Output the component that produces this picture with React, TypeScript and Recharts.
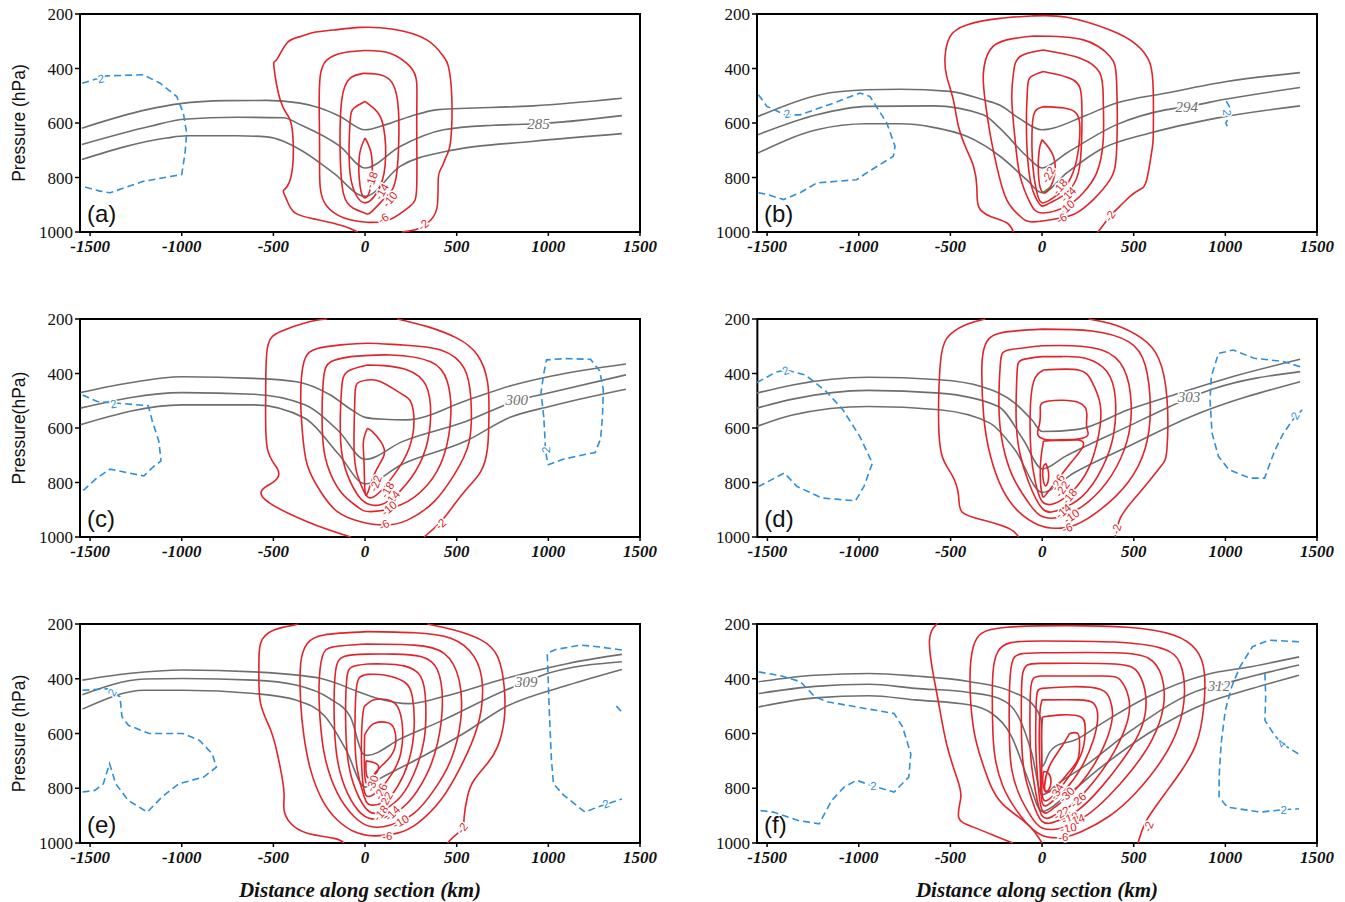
import React from "react";
import { ComposedChart, Line, Scatter, XAxis, YAxis, ReferenceArea } from "recharts";

type Pt = [number, number];
type Tag = [number, number, string, number];

// distance along section (km) / pressure (hPa)
const X_MIN = -1555;
const X_MAX = 1500;
const xTicks = [-1500, -1000, -500, 0, 500, 1000, 1500];
const pTicks = [200, 400, 600, 800, 1000];

// ---------- (a) ----------
const aTheta: Pt[][] = [
  [[-1545, 619], [-1190, 551], [-1009, 529], [-760, 518], [-536, 517], [-354, 527], [-246, 545], [-136, 576], [0, 625], [118, 605], [250, 575], [400, 551], [919, 537], [1401, 509]],
  [[-1545, 679], [-1172, 612], [-990, 586], [-700, 579], [-445, 581], [-354, 606], [-136, 686], [0, 765], [191, 686], [428, 625], [700, 608], [946, 603], [1401, 573]],
  [[-1545, 734], [-1082, 655], [-973, 647], [-700, 647], [-536, 651], [-354, 698], [-173, 783], [0, 869], [191, 759], [446, 704], [919, 667], [1401, 639]],
];
const aRed: Pt[][] = [
  [[200, 1000], [290, 988], [360, 955], [395, 900], [400, 800], [420, 760], [445, 720], [468, 660], [473, 500], [455, 393], [428, 356], [337, 295], [155, 256], [-27, 249], [-173, 259], [-282, 268], [-354, 283], [-427, 307], [-482, 368], [-497, 393], [-463, 515], [-418, 576], [-395, 637], [-395, 759], [-424, 832], [-446, 850], [-428, 881], [-382, 930], [-264, 954], [-118, 978], [-40, 1000]],
  [[0, 334], [-118, 342], [-209, 369], [-245, 430], [-250, 550], [-248, 700], [-245, 833], [-209, 905], [-118, 948], [9, 964], [136, 954], [246, 905], [282, 832], [282, 600], [282, 454], [246, 393], [136, 344]],
  [[-9, 418], [-82, 436], [-127, 515], [-136, 698], [-118, 858], [-64, 913], [0, 931], [36, 925], [118, 869], [173, 783], [182, 551], [136, 442], [60, 420]],
  [[0, 521], [-60, 545], [-82, 600], [-85, 759], [-55, 856], [0, 893], [64, 856], [109, 759], [100, 612], [55, 551]],
  [[0, 655], [-31, 722], [-27, 832], [0, 875], [31, 832], [36, 722]],
];
const aBlue: Pt[][] = [
  [[-1543, 454], [-1409, 427], [-1209, 423], [-1118, 454], [-1027, 503], [-991, 564], [-973, 637], [-982, 710], [-1000, 789], [-1209, 814], [-1391, 856], [-1445, 850], [-1545, 832]],
];
const aRedTags: Tag[] = [[36, 809, "-18", -70], [91, 852, "-14", -60], [136, 880, "-10", -50], [100, 950, "-6", -30], [318, 974, "-2", -40]];
const aBlueTags: Tag[] = [[-1440, 438, "2", -10]];
const aThetaTags: Tag[] = [[946, 603, "285", 0]];

// ---------- (b) ----------
const bTheta: Pt[][] = [
  [[-1549, 576], [-1212, 496], [-957, 478], [-775, 476], [-502, 484], [-320, 515], [-229, 535], [-120, 585], [0, 625], [40, 622], [225, 576], [407, 527], [680, 490], [1007, 448], [1407, 415]],
  [[-1549, 643], [-1229, 570], [-957, 539], [-593, 537], [-320, 570], [-229, 620], [-84, 722], [0, 765], [135, 710], [407, 606], [680, 551], [789, 540], [1007, 512], [1407, 470]],
  [[-1549, 710], [-1229, 625], [-957, 603], [-775, 603], [-600, 615], [-411, 649], [-229, 722], [-84, 808], [0, 856], [135, 783], [316, 698], [589, 637], [952, 582], [1407, 537]],
];
const bRed: Pt[][] = [
  [[-156, 1000], [-193, 966], [-284, 942], [-347, 905], [-356, 832], [-374, 759], [-411, 698], [-456, 612], [-484, 515], [-520, 429], [-529, 356], [-502, 283], [-411, 240], [-229, 216], [-47, 207], [135, 212], [371, 259], [516, 313], [589, 381], [607, 490], [607, 640], [600, 698], [571, 808], [534, 844], [480, 869], [425, 905], [371, 942], [316, 991], [300, 1000]],
  [[-47, 281], [-193, 295], [-284, 332], [-320, 417], [-311, 515], [-284, 637], [-247, 759], [-193, 881], [-120, 942], [-47, 963], [107, 948], [189, 930], [280, 881], [371, 808], [407, 698], [407, 454], [371, 356], [225, 295]],
  [[7, 332], [-120, 356], [-156, 417], [-165, 515], [-147, 661], [-120, 795], [-65, 893], [0, 930], [135, 905], [225, 856], [298, 783], [334, 661], [334, 515], [316, 417], [207, 362]],
  [[7, 411], [-60, 430], [-80, 480], [-85, 637], [-65, 808], [-29, 881], [0, 905], [44, 893], [135, 856], [198, 783], [216, 661], [216, 515], [171, 442]],
  [[10, 540], [-40, 560], [-55, 640], [-50, 760], [-30, 850], [0, 893], [60, 875], [120, 840], [170, 780], [200, 690], [205, 600], [180, 560], [120, 545]],
  [[0, 661], [62, 722], [62, 808], [7, 856], [-20, 783], [-15, 698]],
];
const bBlue: Pt[][] = [
  [[-1547, 496], [-1501, 539], [-1401, 570], [-1320, 570], [-1138, 527], [-993, 490], [-938, 503], [-847, 600], [-802, 686], [-811, 722], [-957, 783], [-1011, 808], [-1229, 820], [-1320, 856], [-1410, 881], [-1501, 862], [-1547, 856]],
  [[1005, 520], [1022, 540], [1000, 558], [1018, 580], [1003, 600], [1010, 612]],
];
const bGreen: Pt[][] = [[[5, 855], [40, 838]]];
const bRedTags: Tag[] = [[35, 790, "-22", -60], [98, 834, "-18", -50], [144, 862, "-14", -45], [135, 910, "-10", -40], [107, 950, "-6", -30], [371, 942, "-2", -55]];
const bBlueTags: Tag[] = [[-1390, 566, "2", -10], [1008, 562, "2", 90]];
const bThetaTags: Tag[] = [[789, 542, "294", 0]];

// ---------- (c) ----------
const cTheta: Pt[][] = [
  [[-1552, 470], [-1298, 436], [-998, 412], [-605, 418], [-374, 430], [-189, 479], [-74, 533], [0, 561], [100, 568], [226, 570], [550, 500], [795, 445], [1012, 410], [1423, 365]],
  [[-1552, 527], [-998, 470], [-605, 476], [-328, 515], [-143, 612], [0, 715], [203, 650], [550, 576], [827, 500], [1012, 470], [1423, 405]],
  [[-1552, 588], [-998, 515], [-605, 515], [-328, 564], [-143, 697], [0, 805], [203, 733], [550, 648], [795, 560], [1012, 520], [1423, 458]],
];
const cRed: Pt[][] = [
  [[-78, 1000], [-315, 944], [-560, 852], [-497, 797], [-479, 748], [-533, 675], [-542, 491], [-533, 308], [-460, 246], [-315, 212], [-206, 200]],
  [[176, 200], [340, 228], [504, 271], [613, 332], [668, 430], [676, 552], [668, 675], [631, 760], [558, 821], [486, 882], [413, 944], [322, 1000]],
  [[-133, 295], [-260, 308], [-333, 357], [-351, 491], [-342, 613], [-315, 736], [-242, 834], [-151, 907], [-24, 944], [104, 956], [231, 938], [377, 870], [486, 772], [568, 650], [577, 491], [541, 381], [413, 314], [195, 295], [13, 289]],
  [[-78, 338], [-187, 357], [-228, 430], [-233, 613], [-206, 736], [-133, 834], [-42, 889], [31, 907], [195, 882], [340, 809], [431, 699], [468, 552], [449, 430], [358, 357], [140, 332]],
  [[13, 369], [-96, 393], [-129, 467], [-133, 650], [-96, 772], [-33, 852], [31, 882], [122, 870], [249, 785], [331, 675], [358, 552], [331, 442], [231, 387], [104, 371]],
  [[13, 424], [-42, 436], [-56, 503], [-60, 675], [-42, 772], [-5, 834], [49, 852], [158, 772], [240, 675], [267, 577], [249, 503], [195, 473], [86, 430]],
  [[13, 601], [-9, 650], [-5, 736], [4, 846], [49, 772], [104, 699], [86, 650], [40, 613]],
];
const cBlue: Pt[][] = [
  [[-1541, 479], [-1460, 503], [-1183, 518], [-1160, 576], [-1125, 648], [-1113, 721], [-1160, 745], [-1206, 776], [-1298, 764], [-1391, 751], [-1460, 782], [-1529, 824], [-1552, 836]],
  [[975, 560], [960, 470], [975, 400], [990, 350], [1100, 345], [1230, 348], [1280, 390], [1300, 460], [1295, 560], [1285, 640], [1255, 690], [1180, 700], [1080, 715], [1000, 735], [985, 690], [980, 620], [975, 560]],
];
const cRedTags: Tag[] = [[58, 803, "-22", -70], [122, 827, "-18", -60], [149, 858, "-14", -50], [131, 895, "-10", -40], [104, 956, "-6", -30], [413, 953, "-2", -40]];
const cBlueTags: Tag[] = [[-1373, 512, "2", -10], [985, 680, "2", -90]];
const cThetaTags: Tag[] = [[827, 497, "300", 0]];

// ---------- (d) ----------
const dTheta: Pt[][] = [
  [[-1557, 472], [-1363, 442], [-950, 414], [-561, 423], [-332, 448], [-149, 509], [-57, 570], [0, 613], [195, 605], [469, 533], [721, 478], [1042, 411], [1408, 348]],
  [[-1557, 527], [-1363, 494], [-950, 462], [-561, 472], [-240, 521], [-103, 643], [0, 750], [126, 704], [469, 594], [698, 521], [801, 490], [927, 458], [1408, 393]],
  [[-1557, 594], [-1363, 552], [-950, 521], [-561, 533], [-286, 582], [-149, 680], [0, 836], [172, 765], [469, 668], [813, 558], [1408, 430]],
];
const dRed: Pt[][] = [
  [[-129, 1000], [-184, 968], [-329, 937], [-439, 907], [-457, 846], [-493, 772], [-548, 699], [-566, 552], [-557, 369], [-521, 271], [-420, 222], [-311, 200]],
  [[253, 200], [399, 222], [544, 271], [635, 344], [681, 491], [681, 675], [653, 736], [581, 797], [490, 870], [426, 931], [399, 1000]],
  [[0, 237], [-238, 253], [-311, 295], [-329, 369], [-320, 552], [-284, 699], [-220, 821], [-129, 907], [-20, 956], [71, 968], [180, 956], [326, 895], [471, 797], [562, 675], [590, 528], [562, 369], [471, 283], [271, 244]],
  [[0, 298], [-184, 314], [-229, 369], [-235, 552], [-202, 699], [-147, 797], [-66, 882], [0, 925], [107, 925], [253, 870], [380, 772], [462, 650], [486, 516], [444, 381], [326, 314], [162, 298]],
  [[0, 338], [-111, 350], [-138, 405], [-142, 577], [-120, 699], [-75, 797], [0, 895], [89, 901], [217, 852], [326, 748], [389, 626], [399, 491], [353, 393], [235, 344], [107, 338]],
  [[7, 387], [-47, 430], [-66, 552], [-60, 699], [-38, 797], [0, 870], [71, 876], [162, 834], [253, 748], [308, 626], [317, 515], [271, 430], [198, 387]],
  [[-11, 522], [35, 501], [198, 506], [244, 552], [244, 601], [217, 638], [7, 640], [-16, 589]],
  [[7, 648], [198, 644], [217, 675], [162, 723], [89, 785], [25, 840], [0, 846], [-11, 772], [-5, 699]],
  [[20, 730], [35, 766], [25, 809], [7, 797], [4, 748]],
];
const dBlue: Pt[][] = [
  [[-1557, 433], [-1454, 395], [-1397, 387], [-1294, 405], [-1179, 466], [-1088, 533], [-996, 631], [-927, 729], [-973, 814], [-1019, 867], [-1202, 857], [-1340, 814], [-1408, 765], [-1546, 814]],
  [[1408, 375], [1317, 356], [1156, 344], [1042, 314], [962, 326], [923, 411], [916, 497], [927, 619], [962, 704], [1019, 753], [1134, 784], [1214, 784], [1237, 741], [1271, 680], [1317, 619], [1374, 564], [1420, 533]],
];
const dRedTags: Tag[] = [[85, 800, "-26", -60], [110, 824, "-22", -55], [149, 851, "-18", -50], [115, 906, "-14", -40], [160, 924, "-10", -35], [137, 967, "-6", -20], [405, 971, "-2", -75]];
const dBlueTags: Tag[] = [[-1400, 390, "2", -20], [1380, 555, "2", -60]];
const dThetaTags: Tag[] = [[801, 487, "303", 0]];

// ---------- (e) ----------
const eTheta: Pt[][] = [
  [[-1542, 405], [-1291, 381], [-994, 368], [-606, 375], [-240, 399], [-34, 448], [60, 470], [240, 491], [423, 466], [765, 399], [1108, 344], [1401, 311]],
  [[-1542, 458], [-1200, 401], [-994, 399], [-606, 405], [-377, 423], [-194, 472], [-80, 539], [-11, 674], [11, 680], [194, 619], [423, 552], [765, 442], [880, 411], [994, 381], [1401, 338]],
  [[-1542, 511], [-1200, 442], [-994, 442], [-606, 454], [-377, 478], [-217, 539], [-103, 661], [0, 796], [80, 765], [308, 686], [537, 600], [765, 503], [1108, 423], [1401, 366]],
];
const eRed: Pt[][] = [
  [[-115, 1000], [-169, 983], [-315, 964], [-406, 928], [-442, 879], [-442, 818], [-460, 733], [-479, 672], [-515, 587], [-570, 490], [-579, 368], [-570, 271], [-497, 222], [-388, 204], [-369, 200]],
  [[340, 200], [486, 222], [632, 258], [723, 319], [759, 429], [759, 550], [723, 648], [668, 709], [595, 770], [559, 830], [541, 903], [531, 946], [486, 976], [450, 1000]],
  [[13, 228], [-224, 240], [-315, 271], [-351, 344], [-351, 490], [-333, 611], [-297, 733], [-233, 843], [-151, 916], [-60, 958], [49, 974], [177, 964], [286, 928], [413, 843], [522, 721], [613, 575], [641, 429], [595, 319], [468, 252], [268, 232]],
  [[13, 273], [-169, 283], [-233, 319], [-251, 429], [-242, 575], [-215, 697], [-151, 818], [-60, 903], [31, 940], [140, 934], [268, 891], [377, 806], [468, 697], [522, 550], [513, 404], [431, 307], [268, 277]],
  [[13, 310], [-115, 319], [-160, 368], [-169, 490], [-160, 648], [-124, 770], [-60, 861], [22, 910], [122, 903], [231, 855], [331, 757], [395, 636], [422, 490], [395, 368], [304, 319], [158, 310]],
  [[13, 346], [-69, 356], [-100, 404], [-106, 550], [-93, 697], [-51, 806], [22, 885], [104, 879], [195, 830], [268, 745], [322, 624], [331, 490], [304, 392], [213, 353], [104, 346]],
  [[13, 384], [-33, 398], [-51, 465], [-55, 611], [-42, 733], [-5, 830], [31, 861], [104, 849], [177, 794], [240, 697], [268, 575], [258, 465], [213, 411], [104, 386]],
  [[-5, 502], [49, 477], [122, 477], [177, 502], [204, 575], [195, 672], [149, 745], [86, 800], [22, 830], [-9, 794], [-20, 672], [-15, 550]],
  [[-2, 605], [45, 565], [120, 560], [160, 585], [165, 645], [125, 695], [60, 740], [20, 780], [0, 765], [-4, 680]],
  [[5, 700], [70, 715], [55, 750], [12, 758]],
];
const eBlue: Pt[][] = [
  [[-1542, 442], [-1405, 437], [-1337, 466], [-1326, 539], [-1291, 570], [-1177, 600], [-994, 600], [-903, 625], [-834, 674], [-811, 723], [-880, 759], [-1017, 784], [-1108, 832], [-1188, 887], [-1291, 845], [-1360, 784], [-1394, 710], [-1428, 784], [-1474, 808], [-1542, 814]],
  [[1401, 295], [1268, 283], [1177, 277], [1040, 293], [994, 307], [1005, 515], [1017, 698], [1028, 784], [1085, 826], [1200, 887], [1268, 869], [1401, 839]],
  [[1371, 500], [1401, 522]],
];
const eRedTags: Tag[] = [[40, 782, "-30", -70], [86, 812, "-26", -65], [113, 843, "-22", -60], [86, 891, "-18", -50], [149, 891, "-14", -45], [195, 922, "-10", -30], [122, 974, "-6", 0], [531, 946, "-2", -50]];
const eBlueTags: Tag[] = [[-1380, 450, "2", -60], [1314, 857, "2", -20]];
const eThetaTags: Tag[] = [[880, 411, "309", 0]];

// ---------- (f) ----------
const fTheta: Pt[][] = [
  [[-1546, 411], [-1239, 387], [-943, 381], [-693, 390], [-400, 410], [-166, 447], [-56, 490], [-5, 550], [0, 721], [40, 670], [71, 648], [180, 624], [326, 563], [581, 465], [890, 386], [1148, 355], [1402, 320]],
  [[-1546, 454], [-1239, 428], [-943, 420], [-693, 435], [-400, 450], [-238, 471], [-129, 538], [-56, 672], [0, 824], [89, 782], [253, 709], [490, 587], [890, 435], [966, 423], [1150, 390], [1402, 350]],
  [[-1546, 503], [-1239, 470], [-943, 462], [-693, 477], [-400, 495], [-275, 526], [-166, 611], [-75, 770], [0, 885], [126, 830], [326, 721], [581, 599], [890, 490], [1150, 435], [1402, 387]],
];
const fRed: Pt[][] = [
  [[-159, 1000], [-239, 979], [-375, 942], [-455, 906], [-443, 832], [-466, 759], [-520, 640], [-557, 515], [-591, 393], [-614, 259], [-580, 204], [-570, 200]],
  [[523, 1000], [545, 955], [580, 906], [670, 820], [761, 735], [841, 637], [880, 515], [886, 381], [841, 295], [716, 240], [466, 212], [125, 206], [-193, 212], [-330, 234], [-375, 283], [-393, 393], [-375, 576], [-330, 698], [-284, 784], [-216, 857], [-102, 918], [-40, 960], [0, 1000]],
  [[0, 262], [-170, 268], [-240, 300], [-268, 380], [-270, 550], [-258, 680], [-215, 790], [-140, 880], [-50, 950], [30, 978], [116, 979], [216, 958], [362, 904], [508, 819], [653, 697], [744, 575], [777, 453], [753, 344], [653, 289], [397, 266]],
  [[0, 305], [-120, 310], [-165, 345], [-178, 450], [-178, 611], [-165, 733], [-120, 830], [-60, 903], [0, 945], [107, 945], [235, 903], [362, 830], [490, 733], [599, 624], [662, 502], [653, 392], [581, 325], [399, 305]],
  [[0, 344], [-80, 350], [-108, 392], [-113, 490], [-110, 648], [-92, 757], [-55, 842], [0, 921], [89, 918], [198, 879], [326, 794], [453, 684], [544, 575], [566, 465], [526, 380], [399, 346]],
  [[0, 390], [-45, 398], [-63, 447], [-66, 575], [-60, 697], [-40, 794], [0, 900], [71, 898], [162, 861], [289, 770], [399, 660], [468, 550], [471, 465], [426, 404], [326, 390]],
  [[0, 435], [-25, 447], [-33, 514], [-34, 648], [-25, 757], [0, 880], [62, 873], [144, 830], [253, 745], [344, 636], [384, 538], [371, 477], [317, 438], [162, 429]],
  [[0, 477], [-12, 526], [-15, 648], [-9, 757], [2, 856], [53, 850], [126, 806], [217, 721], [280, 624], [304, 538], [280, 489], [198, 477]],
  [[2, 540], [-3, 611], [-2, 733], [5, 838], [53, 832], [107, 794], [180, 721], [226, 648], [235, 575], [207, 538], [107, 532]],
  [[150, 600], [195, 600], [205, 640], [195, 695], [150, 738], [85, 790], [30, 815], [14, 790], [40, 720], [100, 655]],
  [[7, 739], [35, 745], [49, 776], [35, 806], [13, 806], [4, 770]],
];
const fBlue: Pt[][] = [
  [[-1546, 375], [-1420, 390], [-1318, 411], [-1239, 466], [-1171, 484], [-1012, 503], [-807, 527], [-761, 576], [-716, 674], [-727, 759], [-807, 814], [-920, 792], [-1012, 771], [-1080, 796], [-1148, 845], [-1216, 930], [-1330, 918], [-1466, 887], [-1546, 881]],
  [[1402, 265], [1239, 259], [1148, 283], [1080, 356], [1034, 430], [1000, 515], [977, 637], [966, 759], [966, 832], [1011, 869], [1193, 887], [1318, 878], [1402, 875]],
  [[1216, 381], [1220, 466], [1216, 552], [1262, 600], [1307, 637], [1398, 674]],
];
const fRedTags: Tag[] = [[80, 812, "-34", -60], [135, 824, "-30", -45], [198, 843, "-26", -40], [107, 891, "-22", -30], [153, 909, "-18", -20], [189, 916, "-14", -20], [144, 946, "-10", -10], [116, 979, "-6", 0], [581, 940, "-2", -70]];
const fBlueTags: Tag[] = [[-920, 792, "2", 0], [1318, 878, "2", 0], [1307, 637, "4", -50]];
const fThetaTags: Tag[] = [[966, 425, "312", 0]];

const RED = "#e0242a";
const BLUE = "#2f8fd8";
const GRAY = "#6e6e6e";
const SERIF = '"Liberation Serif", "Times New Roman", serif';
const SANS = '"Liberation Sans", Arial, sans-serif';

const onBorder = (pts: Pt[]) => pts[0][1] >= 1000 || pts[0][1] <= 200;
// closed contours are drawn as a loop back to their first vertex
const rows = (pts: Pt[], loop = false) => (loop ? [...pts, pts[0]] : pts).map(([x, p]) => ({ x, p }));
const tagRows = (tags: Tag[]) => tags.map(([x, p, t, a]) => ({ x, p, t, a }));

const makeTagShape = (color: string, size: number, family: string, italic = false) => (props: any) => {
  const { cx, cy, payload } = props;
  return (
    <text
      x={cx}
      y={cy}
      transform={`rotate(${payload.a} ${cx} ${cy})`}
      textAnchor="middle"
      dominantBaseline="central"
      fontFamily={family}
      fontStyle={italic ? "italic" : "normal"}
      fontSize={size}
      fill={color}
      stroke="#fff"
      strokeWidth={3}
      style={{ paintOrder: "stroke" }}
    >
      {payload.t}
    </text>
  );
};
const redTag = makeTagShape(RED, 11.5, SANS);
const blueTag = makeTagShape(BLUE, 11.5, SANS);
const thetaTag = makeTagShape(GRAY, 15, SERIF, true);

const YTitle = ({ viewBox, text }: any) => {
  const cy = viewBox.y + viewBox.height / 2;
  return (
    <text x={19} y={cy} transform={`rotate(-90 19 ${cy})`} textAnchor="middle" dominantBaseline="central" fontFamily={SANS} fontSize={17.5} fill="#111">
      {text}
    </text>
  );
};

const XTitle = ({ viewBox, text }: any) => (
  <text x={viewBox.x + viewBox.width / 2} y={viewBox.y + 54} textAnchor="middle" fontFamily={SERIF} fontStyle="italic" fontWeight={700} fontSize={21} fill="#111">
    {text}
  </text>
);

const PanelTag = ({ viewBox, text }: any) => (
  <text x={viewBox.x + 7} y={viewBox.y + viewBox.height - 10} fontFamily={SANS} fontSize={24} fill="#111">
    {text}
  </text>
);

interface PanelProps {
  left: number;
  top: number;
  plotH: number;
  theta: Pt[][];
  red: Pt[][];
  blue: Pt[][];
  green?: Pt[][];
  redTags: Tag[];
  blueTags: Tag[];
  thetaTags: Tag[];
  tag: string;
  yTitle?: string;
  xTitle?: string;
}

const Panel = ({ left, top, plotH, theta, red, blue, green = [], redTags, blueTags, thetaTags, tag, yTitle, xTitle }: PanelProps) => {
  const axisH = xTitle ? 59 : 30;
  return (
    <div style={{ position: "absolute", left, top }}>
      <ComposedChart width={668} height={10 + plotH + axisH} margin={{ top: 10, right: 28, bottom: 0, left: 0 }}>
        <XAxis
          type="number"
          dataKey="x"
          domain={[X_MIN, X_MAX]}
          ticks={xTicks}
          interval={0}
          height={axisH}
          axisLine={false}
          tickSize={4}
          tickMargin={4}
          tickLine={{ stroke: "#000", strokeWidth: 1.5 }}
          tick={{ fontFamily: SERIF, fontStyle: "italic", fontWeight: 700, fontSize: 17, fill: "#111" }}
          label={xTitle ? <XTitle text={xTitle} /> : undefined}
        />
        <YAxis
          type="number"
          dataKey="p"
          domain={[200, 1000]}
          reversed
          ticks={pTicks}
          interval={0}
          width={80}
          axisLine={false}
          tickSize={5}
          tickMargin={2}
          tickLine={{ stroke: "#000", strokeWidth: 1.5 }}
          tick={{ fontFamily: SERIF, fontSize: 17, fill: "#111" }}
          label={yTitle ? <YTitle text={yTitle} /> : undefined}
        />
        {theta.map((pts, i) => (
          <Line key={`t${i}`} data={rows(pts)} dataKey="p" type="monotone" stroke={GRAY} strokeWidth={1.6} dot={false} activeDot={false} isAnimationActive={false} />
        ))}
        {red.map((pts, i) => (
          <Line
            key={`r${i}`}
            data={rows(pts, !onBorder(pts))}
            dataKey="p"
            type="natural"
            stroke={RED}
            strokeWidth={1.6}
            dot={false}
            activeDot={false}
            isAnimationActive={false}
          />
        ))}
        {blue.map((pts, i) => (
          <Line key={`b${i}`} data={rows(pts)} dataKey="p" type="linear" stroke={BLUE} strokeWidth={1.6} strokeDasharray="7 4" dot={false} activeDot={false} isAnimationActive={false} />
        ))}
        {green.map((pts, i) => (
          <Line key={`g${i}`} data={rows(pts)} dataKey="p" type="linear" stroke="#3a9a3a" strokeWidth={1.5} dot={false} activeDot={false} isAnimationActive={false} />
        ))}
        <Scatter data={tagRows(redTags)} dataKey="p" shape={redTag} isAnimationActive={false} />
        <Scatter data={tagRows(blueTags)} dataKey="p" shape={blueTag} isAnimationActive={false} />
        <Scatter data={tagRows(thetaTags)} dataKey="p" shape={thetaTag} isAnimationActive={false} />
        <ReferenceArea
          x1={X_MIN}
          x2={X_MAX}
          y1={200}
          y2={1000}
          fill="none"
          fillOpacity={0}
          stroke="#000"
          strokeWidth={2}
          ifOverflow="visible"
          label={<PanelTag text={tag} />}
        />
      </ComposedChart>
    </div>
  );
};

export default function App() {
  const L = 0;
  const R = 677;
  return (
    <div style={{ position: "absolute", left: 0, top: 0, width: 1345, height: 902, background: "#fff", overflow: "hidden" }}>
      <Panel left={L} top={4} plotH={218} theta={aTheta} red={aRed} blue={aBlue} redTags={aRedTags} blueTags={aBlueTags} thetaTags={aThetaTags} tag="(a)" yTitle="Pressure (hPa)" />
      <Panel left={R} top={4} plotH={218} theta={bTheta} red={bRed} blue={bBlue} green={bGreen} redTags={bRedTags} blueTags={bBlueTags} thetaTags={bThetaTags} tag="(b)" />
      <Panel left={L} top={309} plotH={218} theta={cTheta} red={cRed} blue={cBlue} redTags={cRedTags} blueTags={cBlueTags} thetaTags={cThetaTags} tag="(c)" yTitle="Pressure(hPa)" />
      <Panel left={R} top={309} plotH={218} theta={dTheta} red={dRed} blue={dBlue} redTags={dRedTags} blueTags={dBlueTags} thetaTags={dThetaTags} tag="(d)" />
      <Panel left={L} top={614} plotH={219} theta={eTheta} red={eRed} blue={eBlue} redTags={eRedTags} blueTags={eBlueTags} thetaTags={eThetaTags} tag="(e)" yTitle="Pressure (hPa)" xTitle="Distance along section (km)" />
      <Panel left={R} top={614} plotH={219} theta={fTheta} red={fRed} blue={fBlue} redTags={fRedTags} blueTags={fBlueTags} thetaTags={fThetaTags} tag="(f)" xTitle="Distance along section (km)" />
    </div>
  );
}
